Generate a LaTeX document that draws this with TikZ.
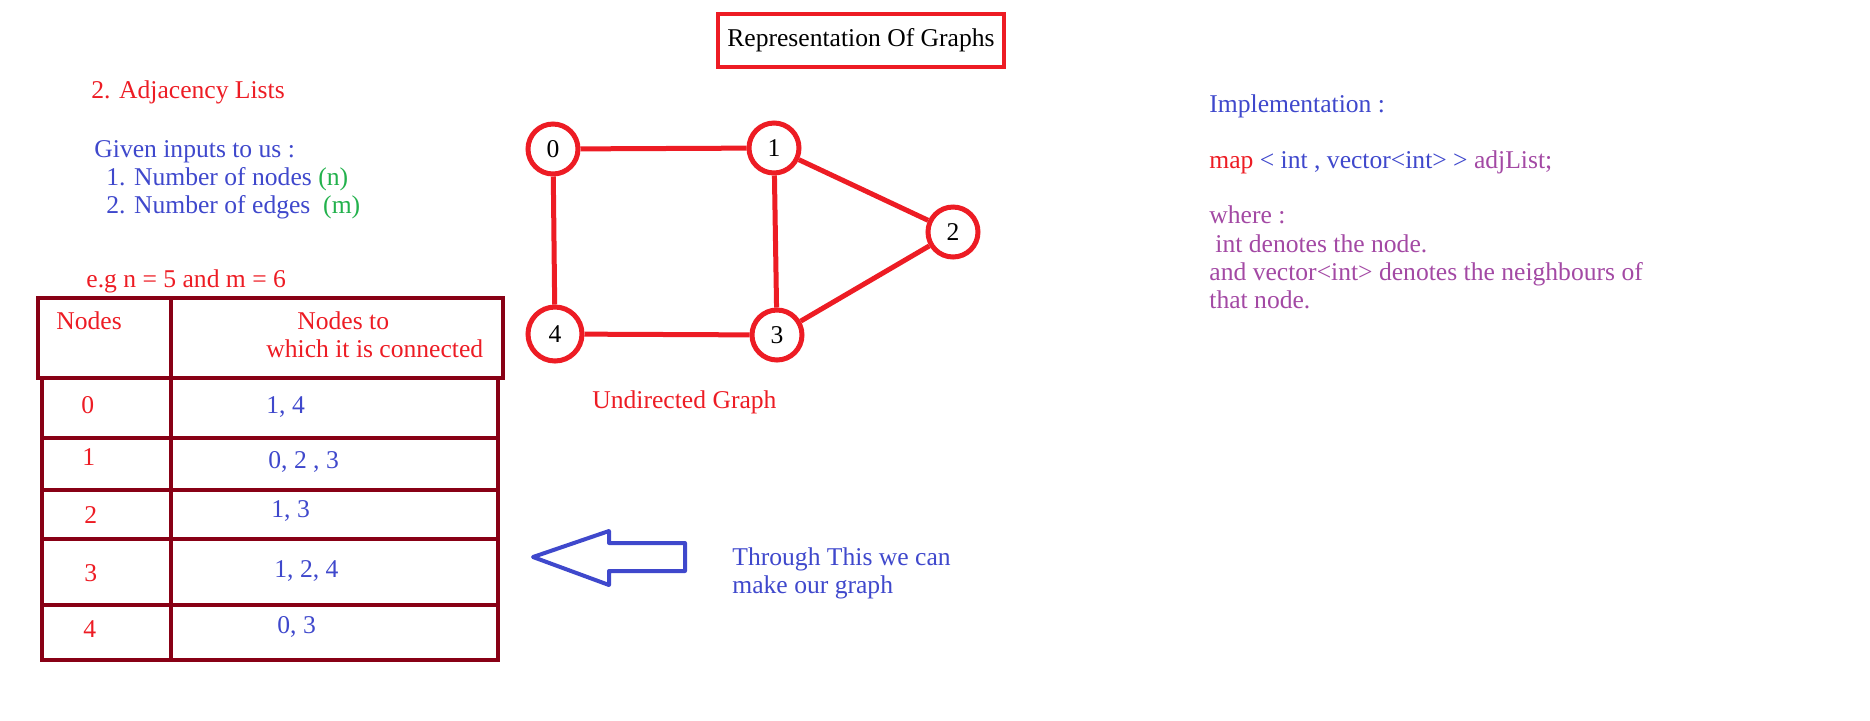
\documentclass[tikz,border=0pt]{standalone}
\usepackage{fontspec}
\setmainfont{Liberation Serif}
\usetikzlibrary{positioning}

\definecolor{pRed}{HTML}{ED1C24}
\definecolor{pDark}{HTML}{880015}
\definecolor{pBlue}{HTML}{3F48CC}
\definecolor{pGreen}{HTML}{22B14C}
\definecolor{pPurple}{HTML}{A349A4}

\begin{document}
\begin{tikzpicture}[
  x=0.5pt, y=-0.5pt,
  font=\fontsize{12.8}{15}\selectfont,
  txt/.style={anchor=base west, inner sep=0pt},
  vertex/.style={circle, draw=pRed, line width=2.5pt, minimum size=25pt, inner sep=0pt},
  edge/.style={draw=pRed, line width=2.5pt},
  grid/.style={draw=pDark, line width=2pt},
  title/.style={rectangle, draw=pRed, line width=2pt, minimum width=143pt, minimum height=26.5pt}
]
\useasboundingbox (0,0) rectangle (1870,720);

% Title box
\node[title] (Title) at (861,40.5) {Representation Of Graphs};

% Left column: what we are given
\node[txt, text=pRed] (Heading) at (91,98) {2. Adjacency Lists};
\node[txt, text=pBlue] (Given) at (94,157) {Given inputs to us :};
\node[txt, text=pBlue] (InN) at (106,185) {1. Number of nodes \textcolor{pGreen}{(n)}};
\node[txt, text=pBlue] (InM) at (106,213) {2. Number of edges\ \ \textcolor{pGreen}{(m)}};
\node[txt, text=pRed] (Example) at (86,287) {e.g n = 5 and m = 6};

% Adjacency table
\draw[grid] (38,298) rectangle (503,378);
\draw[grid] (171,298) -- (171,378);
\draw[grid] (42,378) rectangle (498,660);
\draw[grid] (171,378) -- (171,660);
\foreach \y in {438,490,539,605}
  \draw[grid] (42,\y) -- (498,\y);

\node[txt, text=pRed] (HeadA) at (56,329) {Nodes};
\node[txt, text=pRed] (HeadB) at (297,329) {Nodes to};
\node[txt, text=pRed] (HeadC) at (266,357) {which it is connected};

\node[txt, text=pRed] (Row0) at (81,413) {0};
\node[txt, text=pBlue] (Adj0) at (266,413) {1, 4};
\node[txt, text=pRed] (Row1) at (82,465) {1};
\node[txt, text=pBlue] (Adj1) at (268,468) {0, 2 , 3};
\node[txt, text=pRed] (Row2) at (84,523) {2};
\node[txt, text=pBlue] (Adj2) at (271,517) {1, 3};
\node[txt, text=pRed] (Row3) at (84,581) {3};
\node[txt, text=pBlue] (Adj3) at (274,577) {1, 2, 4};
\node[txt, text=pRed] (Row4) at (83,637) {4};
\node[txt, text=pBlue] (Adj4) at (277,633) {0, 3};

% Graph
\node[vertex] (v0) at (553,149) {0};
\node[vertex] (v1) at (774,148) {1};
\node[vertex] (v2) at (953,232) {2};
\node[vertex] (v3) at (777,335) {3};
\node[vertex, minimum size=27pt] (v4) at (555,334) {4};

\draw[edge] (v0) -- (v1);
\draw[edge] (v0) -- (v4);
\draw[edge] (v1) -- (v3);
\draw[edge] (v1) -- (v2);
\draw[edge] (v2) -- (v3);
\draw[edge] (v4) -- (v3);

\node[txt, text=pRed] (GraphLabel) at (592,408) {Undirected Graph};

% Block arrow pointing back at the table
\draw[draw=pBlue, line width=2pt, line join=round]
  (533,557) -- (609,531) -- (609,543) -- (685,543) -- (685,571)
  -- (609,571) -- (609,585) -- cycle;
\node[txt, text=pBlue] (Through) at (732,565) {Through This we can};
\node[txt, text=pBlue] (MakeIt) at (732,593) {make our graph};

% Right column: implementation note
\node[txt, text=pBlue] (Impl) at (1209,112) {Implementation :};
\node[txt, text=pRed] (MapDecl) at (1209,168)
  {map \textcolor{pBlue}{< int , vector<int> >} \textcolor{pPurple}{adjList;}};
\node[txt, text=pPurple] (Where) at (1209,223) {where :};
\node[txt, text=pPurple] (WhereA) at (1215,252) {int denotes the node.};
\node[txt, text=pPurple] (WhereB) at (1209,280) {and vector<int> denotes the neighbours of};
\node[txt, text=pPurple] (WhereC) at (1209,308) {that node.};

\end{tikzpicture}
\end{document}
